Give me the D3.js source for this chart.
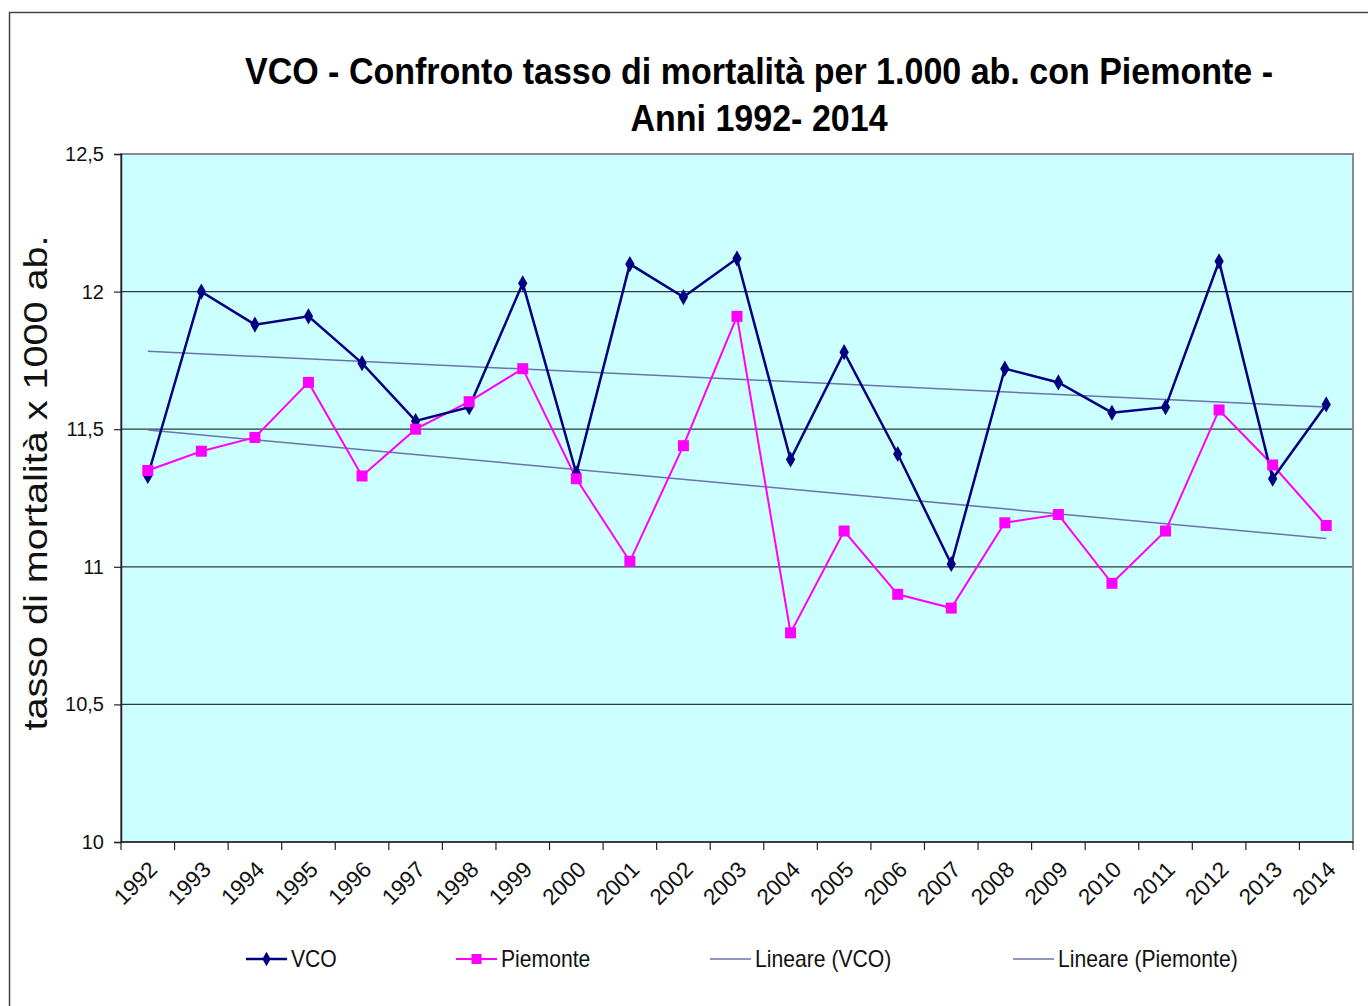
<!DOCTYPE html>
<html><head><meta charset="utf-8">
<script src="https://cdn.jsdelivr.net/npm/d3@7"></script>
<style>body{margin:0;background:#fff;}svg{display:block;}</style>
</head><body>
<script>
const years = ["1992","1993","1994","1995","1996","1997","1998","1999","2000","2001","2002","2003","2004","2005","2006","2007","2008","2009","2010","2011","2012","2013","2014"];
const vco = [11.33,12.00,11.88,11.91,11.74,11.53,11.58,12.03,11.34,12.10,11.98,12.12,11.39,11.78,11.41,11.01,11.72,11.67,11.56,11.58,12.11,11.32,11.59];
const piemonte = [11.35,11.42,11.47,11.67,11.33,11.50,11.60,11.72,11.32,11.02,11.44,11.91,10.76,11.13,10.90,10.85,11.16,11.19,10.94,11.13,11.57,11.37,11.15];
const yTicks = [10,10.5,11,11.5,12,12.5];
const titleLines = ["VCO - Confronto tasso di mortalità per 1.000 ab. con Piemonte -","Anni 1992- 2014"];
const legendNames = ["VCO","Piemonte","Lineare (VCO)","Lineare (Piemonte)"];

const W=1368,H=1006;
const svg=d3.select("body").append("svg").attr("width",W).attr("height",H);
svg.append("rect").attr("x",9.5).attr("y",12.5).attr("width",1400).attr("height",1100).attr("fill","#fff").attr("stroke","#444").attr("stroke-width",1.5);

const L=121,R=1353,T=154,B=842;
const x=d3.scaleBand().domain(years).range([L,R]);
const y=d3.scaleLinear().domain([10,12.5]).range([B,T]);
const cx=d=>x(d)+x.bandwidth()/2;

svg.append("rect").attr("x",L).attr("y",T).attr("width",R-L).attr("height",B-T).attr("fill","#ccffff");
svg.append("g").selectAll("line").data(yTicks.filter(v=>v>10&&v<12.5)).join("line")
 .attr("x1",L).attr("x2",R).attr("y1",d=>y(d)).attr("y2",d=>y(d)).attr("stroke","#2f3a36").attr("stroke-width",1.3);
svg.append("rect").attr("x",L).attr("y",T).attr("width",R-L).attr("height",B-T).attr("fill","none").attr("stroke","#8a8a8a").attr("stroke-width",2);

const fmt=d=>String(d).replace(".",",");
const ya=svg.append("g").attr("transform",`translate(${L},0)`).call(d3.axisLeft(y).tickValues(yTicks).tickFormat(fmt).tickSize(7).tickPadding(10));
ya.select(".domain").attr("stroke","#222").attr("stroke-width",1.5);
ya.selectAll(".tick line").attr("stroke","#222").attr("stroke-width",1.2);
ya.selectAll("text").attr("font-family","Liberation Sans, Arial, sans-serif").attr("font-size",20).attr("fill","#111");

const xg=svg.append("g").attr("transform",`translate(0,${B})`);
xg.append("line").attr("x1",L).attr("x2",R).attr("stroke","#222").attr("stroke-width",1.5);
const bounds=years.map(d=>x(d)).concat([R]);
xg.selectAll("line.t").data(bounds).join("line").attr("class","t").attr("x1",d=>d).attr("x2",d=>d).attr("y1",0).attr("y2",8).attr("stroke","#222").attr("stroke-width",1.2);
xg.selectAll("text").data(years).join("text")
 .attr("transform",d=>`translate(${cx(d)-1},${17}) rotate(-45)`)
 .attr("text-anchor","end").attr("dy","0.75em")
 .attr("font-family","Liberation Sans, Arial, sans-serif").attr("font-size",22.5).attr("fill","#111").text(d=>d);

function trend(vals){
 const n=vals.length, xs=d3.range(1,n+1);
 const mx=d3.mean(xs), my=d3.mean(vals);
 let sxy=0,sxx=0; xs.forEach((xi,i)=>{sxy+=(xi-mx)*(vals[i]-my);sxx+=(xi-mx)**2;});
 const b=sxy/sxx,a=my-b*mx;
 return [a+b*1,a+b*n];
}
[vco,piemonte].forEach(vals=>{
 const t=trend(vals);
 svg.append("line").attr("x1",cx(years[0])).attr("x2",cx(years[years.length-1])).attr("y1",y(t[0])).attr("y2",y(t[1]))
  .attr("stroke","#6a74a8").attr("stroke-width",1.5);
});

const line=d3.line().x((d,i)=>cx(years[i])).y(d=>y(d));
svg.append("path").datum(piemonte).attr("d",line).attr("fill","none").attr("stroke","#ff00ff").attr("stroke-width",2);
svg.append("path").datum(vco).attr("d",line).attr("fill","none").attr("stroke","#000080").attr("stroke-width",2.5);
svg.append("g").selectAll("path").data(vco).join("path").attr("d",d3.symbol(d3.symbolDiamond,75))
 .attr("transform",(d,i)=>`translate(${cx(years[i])},${y(d)})`).attr("fill","#000080");
svg.append("g").selectAll("rect").data(piemonte).join("rect")
 .attr("x",(d,i)=>cx(years[i])-5.5).attr("y",d=>y(d)-5.5).attr("width",11).attr("height",11).attr("fill","#ff00ff");

const tg=svg.append("g").attr("transform","translate(759,0) scale(0.945,1)");
tg.selectAll("text").data(titleLines).join("text")
 .attr("x",0).attr("y",(d,i)=>84+i*47).attr("text-anchor","middle")
 .attr("font-family","Liberation Sans, Arial, sans-serif").attr("font-weight","bold").attr("font-size",36).attr("fill","#000").text(d=>d);

svg.append("text").attr("transform","translate(47,483) rotate(-90) scale(1.2,1)").attr("text-anchor","middle")
 .attr("font-family","Liberation Sans, Arial, sans-serif").attr("font-size",33).attr("fill","#111").text("tasso di mortalità x 1000 ab.");

const legStyle=[
 {x:246,color:"#000080",mark:"diamond",w:2.5},
 {x:456,color:"#ff00ff",mark:"square",w:2},
 {x:710,color:"#6a74a8",mark:null,w:1.5},
 {x:1013,color:"#6a74a8",mark:null,w:1.5}];
const leg=legendNames.map((n,i)=>Object.assign({name:n},legStyle[i]));
const lg=svg.append("g").selectAll("g").data(leg).join("g").attr("transform",d=>`translate(${d.x},959)`);
lg.append("line").attr("x1",0).attr("x2",41).attr("stroke",d=>d.color).attr("stroke-width",d=>d.w);
lg.filter(d=>d.mark==="diamond").append("path").attr("d",d3.symbol(d3.symbolDiamond,60)).attr("transform","translate(20.5,0)").attr("fill","#000080");
lg.filter(d=>d.mark==="square").append("rect").attr("x",15.5).attr("y",-5).attr("width",10).attr("height",10).attr("fill","#ff00ff");
lg.append("text").attr("transform","translate(45,0) scale(0.92,1)").attr("dy","0.36em").attr("font-family","Liberation Sans, Arial, sans-serif").attr("font-size",23).attr("fill","#111").text(d=>d.name);
</script>
</body></html>
